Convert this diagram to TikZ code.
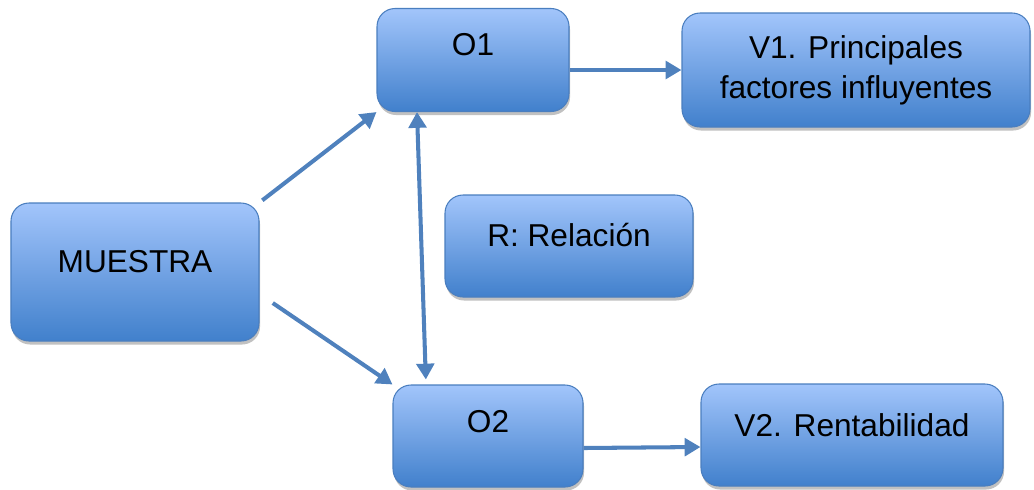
\documentclass[tikz,border=0pt]{standalone}
\usepackage{fontspec}
\setmainfont{Liberation Sans}
\usetikzlibrary{arrows.meta,shadows}

\definecolor{boxtop}{HTML}{A2C5FB}
\definecolor{boxmid}{HTML}{83ADEB}
\definecolor{boxbot}{HTML}{4180CC}
\definecolor{boxline}{HTML}{4A7EBF}
\definecolor{arrowblue}{HTML}{4F81BD}

\tikzset{
  box/.style={
    rectangle,
    rounded corners=0.36cm,
    draw=boxline,
    line width=0.6pt,
    top color=boxtop,
    middle color=boxmid,
    bottom color=boxbot,
    drop shadow={shadow xshift=0.6pt, shadow yshift=-2pt, opacity=0.35, fill=black!70},
    align=center,
    inner sep=0pt,
    font=\fontsize{18}{22.7}\selectfont,
  },
  link/.style={
    draw=arrowblue,
    line width=2.3pt,
    -{Triangle[length=9pt,width=10pt]},
  },
  both link/.style={
    draw=arrowblue,
    line width=2.3pt,
    {Triangle[length=9pt,width=10pt]}-{Triangle[length=9pt,width=10pt]},
  }
}

\begin{document}
\begin{tikzpicture}
    \useasboundingbox (0,0) rectangle (20.68,-9.78);
    % boxes
    \node[box, minimum width=3.84cm, minimum height=2.06cm,
          label={[font=\fontsize{18}{22.7}\selectfont, yshift=0.30cm]center:O1}]
          (o1) at (9.46,-1.20) {};
    \node[box, minimum width=6.96cm, minimum height=2.28cm]
          (v1) at (17.12,-1.40) {V1. Principales\\factores influyentes};
    \node[box, minimum width=4.96cm, minimum height=2.76cm,
          label={[font=\fontsize{18}{22.7}\selectfont, yshift=0.20cm]center:MUESTRA}]
          (muestra) at (2.70,-5.44) {};
    \node[box, minimum width=4.96cm, minimum height=2.04cm,
          label={[font=\fontsize{18}{22.7}\selectfont, yshift=0.22cm]center:R: Relación}]
          (rel) at (11.38,-4.92) {};
    \node[box, minimum width=3.80cm, minimum height=2.04cm,
          label={[font=\fontsize{18}{22.7}\selectfont, yshift=0.28cm]center:O2}]
          (o2) at (9.76,-8.72) {};
    \node[box, minimum width=6.04cm, minimum height=2.04cm,
          label={[font=\fontsize{18}{22.7}\selectfont, yshift=0.20cm]center:V2. Rentabilidad}]
          (v2) at (17.04,-8.70) {};

    % arrows
    \draw[link, shorten <=2pt] (muestra.north east) -- (o1.south west);
    \draw[link, shorten <=0.32cm] ([yshift=-0.44cm]muestra.east) -- (o2.north west);
    \draw[link] (o1.east |- v1.west) -- (v1.west);
    \draw[link] ([yshift=-0.24cm]o2.east) -- ([yshift=-0.24cm]v2.west);
    \draw[both link, shorten >=0.1cm] ([xshift=-1.12cm]o1.south) -- ([xshift=-1.24cm]o2.north);
\end{tikzpicture}
\end{document}
